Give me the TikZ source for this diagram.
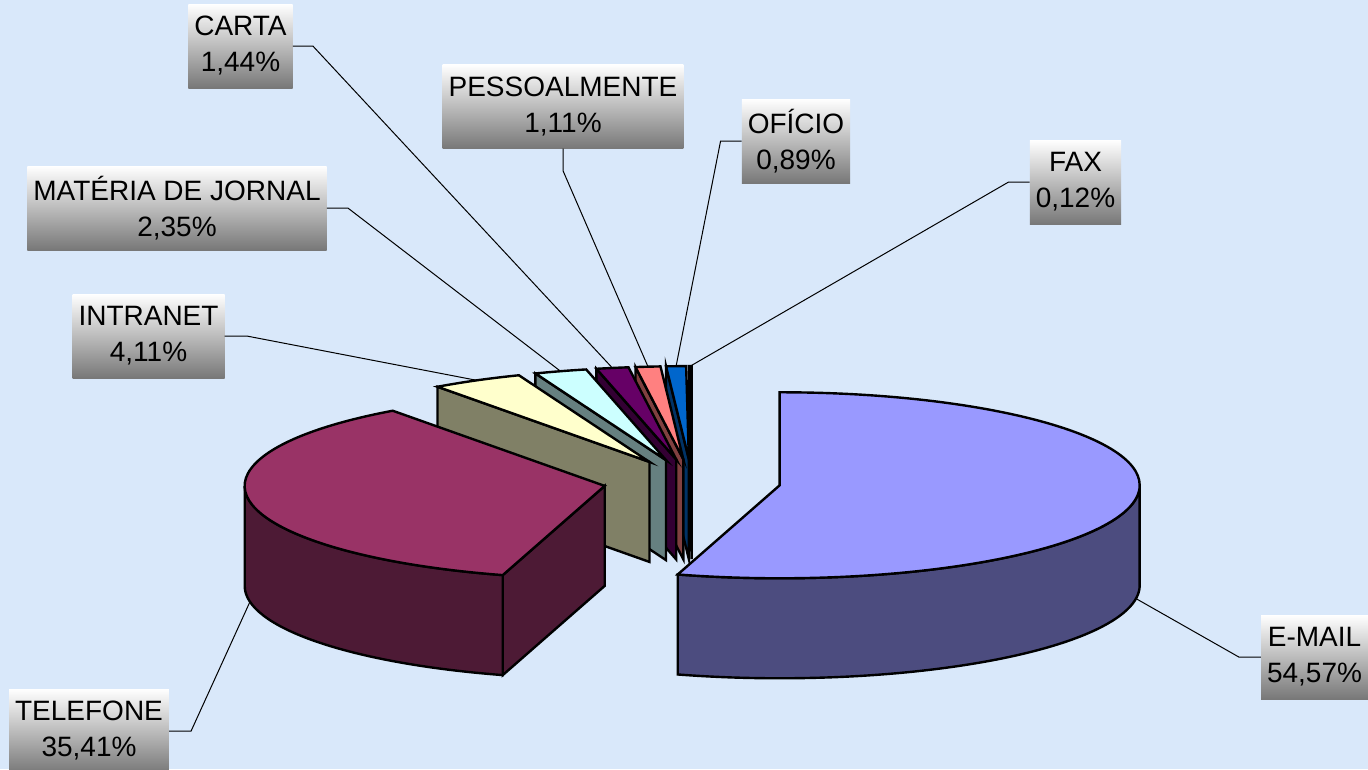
\documentclass[tikz,border=0pt]{standalone}
\usepackage{fontspec}
\setmainfont{Liberation Sans}
\usetikzlibrary{calc}
\definecolor{bgblue}{RGB}{217,232,250}
\definecolor{emtop}{RGB}{153,153,255}
\definecolor{emside}{RGB}{76,76,127}
\definecolor{teltop}{RGB}{153,51,102}
\definecolor{telside}{RGB}{77,26,53}
\definecolor{inttop}{RGB}{255,255,204}
\definecolor{intside}{RGB}{128,128,102}
\definecolor{mattop}{RGB}{204,255,255}
\definecolor{matside}{RGB}{102,128,128}
\definecolor{cartop}{RGB}{102,0,102}
\definecolor{carside}{RGB}{51,0,51}
\definecolor{pestop}{RGB}{255,128,128}
\definecolor{pesside}{RGB}{128,64,64}
\definecolor{ofitop}{RGB}{0,102,204}
\definecolor{ofiside}{RGB}{0,51,102}
\definecolor{faxtop}{RGB}{204,204,255}
\definecolor{faxside}{RGB}{102,102,128}
\newcommand\pieC[3]{% name, start, end
  \pgfmathsetmacro\midang{(#2+#3)/2}
  \coordinate (#1) at ({692+88.6*cos(\midang)},{-482+88.6*sin(\midang)*93/360});
  \coordinate (#1-tip) at ($(#1)+(\midang:360 and 93)$);
  \coordinate (#1-low) at ($(#1)+(\midang:360 and 93)+(0,-100)$);
}
\newcommand\smallslice[5]{% name, start, end, top, side
  \pieC{#1}{#2}{#3}
  \filldraw[face, fill=#5] (#1) -- ++(#2:360 and 93) -- ++(0,-100) -- ($(#1)+(0,-100)$) -- cycle;
  \filldraw[face, fill=#4] (#1) -- ++(#2:360 and 93) arc[start angle=#2, end angle=#3, x radius=360, y radius=93] -- cycle;
}
\begin{document}
\begin{tikzpicture}[x=1pt,y=1pt,
  lbl/.style={top color=white, bottom color=black!53, align=center,
    font=\fontsize{28}{36}\selectfont, inner xsep=6pt, inner ysep=0pt, minimum height=84pt},
  leader/.style={draw=black, line width=1pt},
  face/.style={draw=black, line width=2.4pt}]
\useasboundingbox (0,0) rectangle (1368,-769);
\fill[bgblue] (0,0) rectangle (1368,-769);

% labels
\node[lbl] (lcar) at (240.5,-46) {CARTA\\1,44\%};
\node[lbl] (lmat) at (177,-208) {MATÉRIA DE JORNAL\\2,35\%};
\node[lbl] (lpes) at (563,-106.5) {PESSOALMENTE\\1,11\%};
\node[lbl] (lofi) at (796,-141) {OFÍCIO\\0,89\%};
\node[lbl] (lfax) at (1075.5,-182) {FAX\\0,12\%};
\node[lbl] (lint) at (148.5,-336) {INTRANET\\4,11\%};
\node[lbl] (ltel) at (89,-731) {TELEFONE\\35,41\%};
\node[lbl] (lem) at (1314.5,-657) {E-MAIL\\54,57\%};

% slice centres and leader targets
\pieC{em}{90}{-106.452}
\pieC{tel}{-106.452}{-233.928}
\pieC{int}{-233.928}{-248.724}
\pieC{mat}{-248.724}{-257.184}
\pieC{car}{-257.184}{-262.368}
\pieC{pes}{-262.368}{-266.364}
\pieC{ofi}{-266.364}{-269.568}
\pieC{fax}{-269.568}{-270}

% leaders
\draw[leader] (lcar.east) -- ++(20,0) -- (car-tip);
\draw[leader] (lmat.east) -- ++(21,0) -- (mat-tip);
\draw[leader] (lpes.south) -- ++(0,-22) -- (pes-tip);
\draw[leader] (lofi.west) -- ++(-21,0) -- (ofi-tip);
\draw[leader] (lfax.west) -- ++(-21,0) -- (fax-tip);
\draw[leader] (lint.east) -- ++(22,0) -- (int-tip);
\draw[leader] (ltel.east) -- ++(22,0) -- (tel-low);
\draw[leader] (lem.west) -- ++(-22,0) -- (em-low);

% small slices, back to front
\smallslice{fax}{-269.568}{-270}{faxtop}{faxside}
\smallslice{ofi}{-266.364}{-269.568}{ofitop}{ofiside}
\smallslice{pes}{-262.368}{-266.364}{pestop}{pesside}
\smallslice{car}{-257.184}{-262.368}{cartop}{carside}
\smallslice{mat}{-248.724}{-257.184}{mattop}{matside}
\smallslice{int}{-233.928}{-248.724}{inttop}{intside}

% telefone
\filldraw[face, fill=telside] (tel) -- ++(-106.452:360 and 93) -- ++(0,-100) -- ($(tel)+(0,-100)$) -- cycle;
\filldraw[face, fill=telside] ($(tel)+(-180:360 and 93)$) arc[start angle=-180, end angle=-106.452, x radius=360, y radius=93]
  -- ++(0,-100) arc[start angle=-106.452, end angle=-180, x radius=360, y radius=93] -- cycle;
\filldraw[face, fill=teltop] (tel) -- ++(-106.452:360 and 93) arc[start angle=-106.452, end angle=-233.928, x radius=360, y radius=93] -- cycle;

% e-mail
\filldraw[face, fill=emside] ($(em)+(-106.452:360 and 93)$) arc[start angle=-106.452, end angle=0, x radius=360, y radius=93]
  -- ++(0,-100) arc[start angle=0, end angle=-106.452, x radius=360, y radius=93] -- cycle;
\filldraw[face, fill=emtop] (em) -- ++(90:360 and 93) arc[start angle=90, end angle=-106.452, x radius=360, y radius=93] -- cycle;
\end{tikzpicture}
\end{document}
